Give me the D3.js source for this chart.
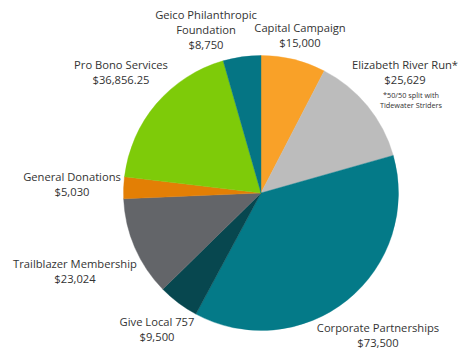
<!DOCTYPE html>
<html>
<head>
<meta charset="utf-8">
<script src="https://cdn.jsdelivr.net/npm/d3@7"></script>
<style>
  html, body { margin: 0; padding: 0; background: #ffffff; }
  svg { display: block; }
  text { font-family: "Open Sans", "Noto Sans", sans-serif; fill: #333333; }
</style>
</head>
<body>
<svg id="chart" width="458" height="351"></svg>
<script>
// Revenue sources, clockwise from 12 o'clock
const categories = [
  "Capital Campaign",
  "Elizabeth River Run*",
  "Corporate Partnerships",
  "Give Local 757",
  "Trailblazer Membership",
  "General Donations",
  "Pro Bono Services",
  "Geico Philanthropic Foundation"
];
const amounts = [15000, 25629, 73500, 9500, 23024, 5030, 36856.25, 8750];
const amountLabels = ["$15,000", "$25,629", "$73,500", "$9,500", "$23,024", "$5,030", "$36,856.25", "$8,750"];
const sliceColors = ["#F9A128", "#BCBCBC", "#047A88", "#07474F", "#636569", "#E37F05", "#7ECB09", "#057584"];

// Label text lines (name may wrap) and anchor points
const nameLines = [
  ["Capital Campaign"],
  ["Elizabeth River Run*"],
  ["Corporate Partnerships"],
  ["Give Local 757"],
  ["Trailblazer Membership"],
  ["General Donations"],
  ["Pro Bono Services"],
  ["Geico Philanthropic", "Foundation"]
];
const labelAnchors = [
  [300, 32], [405, 69], [378, 332], [157, 326],
  [75, 268], [72, 181], [121, 69], [206, 19]
];
const footnote = ["*50/50 split with", "Tidewater Striders"];

const svg = d3.select("#chart");
const cx = 261, cy = 193, radius = 137.5;

const data = categories.map((c, i) => ({ name: c, value: amounts[i], color: sliceColors[i] }));

const pie = d3.pie().value(d => d.value).sort(null);
const arc = d3.arc().innerRadius(0).outerRadius(radius);

const g = svg.append("g").attr("transform", `translate(${cx},${cy})`);
g.selectAll("path")
  .data(pie(data))
  .join("path")
  .attr("d", arc)
  .attr("fill", d => d.data.color)
  .attr("stroke", d => d.data.color)
  .attr("stroke-width", 0.4);

const lineH = 15;
const labels = svg.append("g");
data.forEach((d, i) => {
  const [x, y] = labelAnchors[i];
  const t = labels.append("text")
    .attr("text-anchor", "middle")
    .attr("font-size", 11.2);
  const lines = nameLines[i].concat([amountLabels[i]]);
  lines.forEach((ln, k) => {
    t.append("tspan").attr("x", x).attr("y", y + k * lineH).text(ln);
  });
});

// Footnote under the Elizabeth River Run label
const fn = labels.append("text").attr("text-anchor", "middle").attr("font-size", 7.3);
footnote.forEach((ln, k) => {
  fn.append("tspan").attr("x", 411).attr("y", 98 + k * 10).text(ln);
});
</script>
</body>
</html>
